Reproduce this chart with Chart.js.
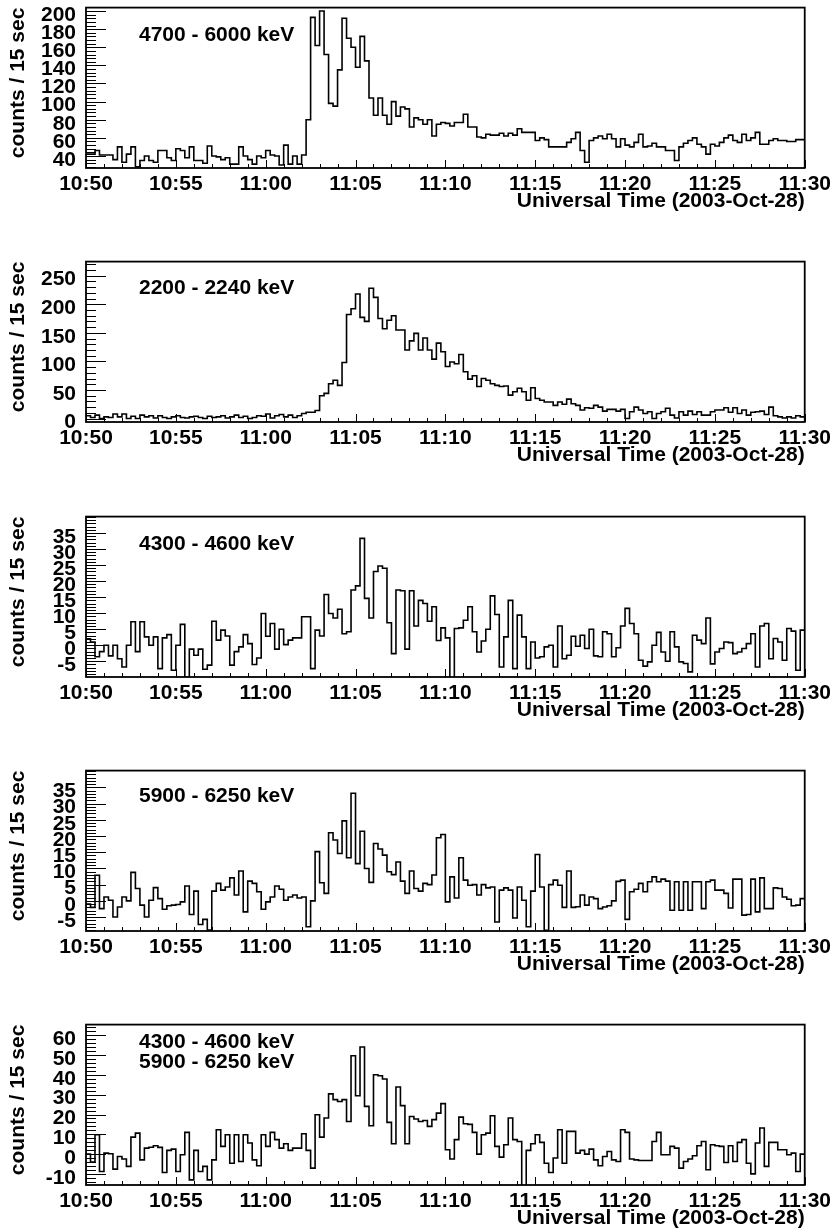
<!DOCTYPE html>
<html><head><meta charset="utf-8">
<script src="https://cdn.jsdelivr.net/npm/chart.js@4.4.1/dist/chart.umd.min.js"></script>
<style>
html,body{margin:0;padding:0;background:#fff;}
#wrap{position:relative;width:835px;height:1230px;overflow:hidden;background:#fff;}
#wrap canvas{position:absolute;left:0;}
</style></head><body><div id="wrap"></div>
<script>
// ---- data ----
const binMinutes = 0.25;           // 15 s bins, minutes after 10:50
const xTickLabels = ['10:50','10:55','11:00','11:05','11:10','11:15','11:20','11:25','11:30'];
const xTitle = 'Universal Time (2003-Oct-28)';
const yTitle = 'counts / 15 sec';

const counts4700to6000 = [
 42,42,46,41,41,41,36,50,33,42, 50,28,35,40,35,33,46,46,38,35,
 48,46,38,50,35,35,32,51,40,39, 36,38,31,31,50,40,36,31,40,38,
 46,41,40,30,52,31,40,31,41,80, 193,162,200,152,98,95,135,192,170,160,
 138,172,145,104,85,104,85,75,100,84, 94,92,72,82,80,75,80,62,75,77,
 76,73,77,77,86,72,72,61,60,64, 63,63,65,62,65,63,70,66,66,66,
 57,60,58,50,50,50,50,55,59,66, 46,33,57,60,62,59,64,59,50,59,
 52,50,55,64,50,51,54,50,50,46, 46,35,50,54,57,60,53,50,42,53,
 51,55,60,63,57,55,64,57,60,66, 53,53,57,59,57,57,56,56,58,58
];
const counts2200to2240 = [
 5,2,6,0,3,2,8,3,8,0, 4,0,6,3,5,1,5,2,0,3,
 5,2,1,3,4,2,0,4,2,3, 5,1,3,6,2,4,0,2,5,4,
 8,1,5,7,3,6,2,5,9,11, 11,14,40,44,61,67,58,98,182,192,
 218,177,170,228,212,175,157,172,180,155, 155,120,136,149,120,141,120,104,132,117,
 91,99,96,112,82,69,75,56,70,67, 61,58,56,57,41,47,53,47,32,54,
 35,32,29,29,23,29,25,34,26,23, 15,19,18,23,20,13,16,16,13,16,
 0,12,20,15,9,12,0,9,12,18, 6,1,12,6,13,7,12,6,6,12,
 15,15,19,11,19,9,15,6,11,12, 13,7,20,5,3,1,3,1,5,3
];
const counts4300to4600 = [
 2,1,-3.6,-2,0,-3.3,0,-4.2,-6.8,0, 7.3,-2,7.3,2.6,0,2.6,-7.3,2.3,3.3,-7.8,
 0,6.5,-10,-1.2,-3.1,-1.2,-7.5,-6.2,7.5,1.6, 4.7,2.9,-6.2,-2,-0.5,3.3,0.5,-6,-4,9.9,
 2.8,6.8,-1.2,5,0.2,1.6,2.3,2.3,8.9,8.9, -7.3,4.7,2.9,15.8,9.9,8.5,11.2,3.6,4.2,17.2,
 18.5,33.3,14.6,8.5,23,24.7,24,7,-2.6,17.2, 17,-1.2,17,6,14,13,7.5,12,1.5,5.4,
 2.3,-11,5.2,5.4,7.8,12,4.2,-2.1,1.3,5, 15.4,9.6,-6.8,2.6,14,-7.3,9.4,2.6,-7.3,1,
 -4,-3.6,-0.5,0,-6.8,6,-4.2,-3.1,2.8,-0.3, 3.1,-1,5,-3.3,-3.6,4.2,3.6,-3.6,-0.8,6,
 11.5,6.8,3.6,-4.7,-6.5,-5.2,0,4,-2.1,-5, 4.2,-0.5,-5.2,-5.7,-8.3,3.1,1.6,0.5,8.5,-5.8,
 -2.1,-1,1,0.8,-2.6,-2.1,-1,0.5,3.6,-6.8, 6,6.8,-4.2,2.1,1,-4.7,5.2,4.4,-7.8,4.7
];
const counts5900to6250 = [
 -1,-2,7.9,-2.4,1.2,0.2,-5,-1.9,1.2,0, 8.8,3.8,-1.3,-5,0.2,4.1,0.7,-2.6,-1.5,-1.3,
 -1.1,-0.3,4.6,-4.2,3,-7.3,-5.7,-9,3,5.4, 3.3,4.3,7.1,1.8,9.2,-3.4,6.1,5.4,2.8,-2.6,
 -0.3,1.2,4.6,3.6,0.2,1.2,1.8,0.9,1.2,-8, 0,15.2,5.6,2.3,21,18.8,14.6,24.7,13.3,33.2,
 11.5,21.5,10,5.7,17.7,16,14.1,9,8.1,12, 6.1,2.3,9.2,3.8,3,5.4,5,8,19.5,20.5,
 -0.3,7.4,0.9,13.3,6.4,4.8,5,1.8,5,4, 4.3,-6.5,3.3,4,3.3,-5.3,4.3,0.2,-8,3,
 14.3,4.3,-9.1,5,6.4,4.8,-2,9.2,-2,-1.8, 1.8,-1.3,1.2,0.7,-2.4,-1.9,-1.5,0,6,6.4,
 -5.7,2.8,3.6,5.4,2.8,5.9,7.4,5.9,6.7,6.1, -2.9,5.9,-2.9,5.9,-2.9,5.9,5.9,-2.4,5.9,6.4,
 3.3,3.3,2.3,-2.2,6.7,6.7,-4.4,-4.2,6.7,-3.4, 7.1,-2.4,-2.4,4,3.8,1.2,0.5,-1.5,-1.3,0.7
];
const countsCombined = [
 0,-4,9.8,-8.8,0.5,0.2,-7.6,-1.2,-2.5,-6.2, 8.6,10.6,-2.9,3,3.5,4.2,3.4,-9.3,1.9,2.5,
 -8.8,-0.3,11,-13,1.9,-8.8,-6.2,-13,-2.9,12.3, 3.9,9.8,-4.6,9.8,-3.7,9.8,5.6,-2.9,-5.9,9.8,
 3.9,11,7.3,3,5.2,1.9,3,3,10.3,1.9, -7.1,19.9,8.6,18.2,30.4,27.5,26.6,27.5,16.5,49.7,
 29.5,54.1,24.1,14.3,40.1,39.6,37.9,16,5.2,33.9, 24.5,5.2,19,17.7,16.5,17,14,17.4,20.7,25.5,
 2.2,-2.5,7.3,18.7,15.3,15,11,0,9.8,10.6, 19.4,3.9,-1.5,4.7,18.2,7.3,6.4,-17,1.9,5.2,
 9.8,5.9,-4.6,-9.3,-2,12.3,-4.6,11.5,11.5,0.5, 1.9,0,2.5,-2.9,-5.9,-1.2,1.3,-2.9,-3.7,12.3,
 11,-2.5,-2.9,-3.2,-3.2,-3.2,6.4,11,-0.3,-0.3, 3.9,3,-7.1,-3.7,-2.5,-0.8,4.2,6.4,-7.9,4.7,
 4.2,3.9,-4.2,4.2,-3.7,5.9,7.3,-4.6,-10,5.6, 13.2,-6.2,5.9,5.9,2.2,2.2,-0.3,0.5,-8.8,0
];

const yTicks1 = [40,60,80,100,120,140,160,180,200];
const yTicks2 = [0,50,100,150,200,250];
const yTicks3 = [-5,0,5,10,15,20,25,30,35];
const yTicks4 = [-5,0,5,10,15,20,25,30,35];
const yTicks5 = [-10,0,10,20,30,40,50,60];

const labels1 = ['4700 - 6000 keV'];
const labels2 = ['2200 - 2240 keV'];
const labels3 = ['4300 - 4600 keV'];
const labels4 = ['5900 - 6250 keV'];
const labels5 = ['4300 - 4600 keV', '5900 - 6250 keV'];

// ---- layout / style ----
const panels = [
  {data:counts4700to6000, ticks:yTicks1, minor:4,  min:26.7,  max:203.8, top:7.3,   text:labels1, textY:[28]},
  {data:counts2200to2240, ticks:yTicks2, minor:10, min:-6,    max:274.6, top:261.7, text:labels2, textY:[27]},
  {data:counts4300to4600, ticks:yTicks3, minor:1,  min:-9.9,  max:40.1,  top:516.7, text:labels3, textY:[28]},
  {data:counts5900to6250, ticks:yTicks4, minor:1,  min:-9.3,  max:40.2,  top:770.7, text:labels4, textY:[26]},
  {data:countsCombined,   ticks:yTicks5, minor:2,  min:-15.6, max:65.4,  top:1025,  text:labels5, textY:[18,38]}
];
const FAM = '"Liberation Sans", Arial, Helvetica, sans-serif';
const tickFont = {family:FAM, size:21, weight:'bold'};
const titleFont = {family:FAM, size:21, weight:'bold'};
const PLOT_H = 160, PAD_TOP = 16, XAX_H = 46;

const rootFrame = {
  id:'rootFrame',
  afterDraw(chart, args, opts){
    const {ctx, chartArea:a} = chart;
    const x = chart.scales.x, y = chart.scales.y;
    ctx.save();
    ctx.strokeStyle = '#000';
    ctx.lineWidth = 1;
    ctx.beginPath();
    for (let m = 0; m <= 40; m++) {
      const px = Math.round(x.getPixelForValue(m)) + 0.5;
      const len = (m % 5 === 0) ? 8 : 4;
      ctx.moveTo(px, a.bottom); ctx.lineTo(px, a.bottom - len);
    }
    const k0 = Math.ceil(y.min / opts.minor), k1 = Math.floor(y.max / opts.minor);
    for (let k = k0; k <= k1; k++) {
      const v = k * opts.minor;
      const py = Math.round(y.getPixelForValue(v)) + 0.5;
      const major = opts.ticks.includes(v);
      ctx.moveTo(a.left, py); ctx.lineTo(a.left + (major ? 20 : 10), py);
    }
    ctx.stroke();
    ctx.lineWidth = 1.8;
    ctx.strokeRect(a.left, a.top, a.right - a.left, a.bottom - a.top);
    ctx.fillStyle = '#000';
    ctx.font = 'bold 21px ' + FAM;
    ctx.textBaseline = 'middle';
    ctx.textAlign = 'left';
    opts.text.forEach((t, i) => ctx.fillText(t, 139, a.top + opts.textY[i]));
    ctx.restore();
  }
};

function makeChart(c, p) {
  const pts = p.data.map((v, i) => ({x: i * binMinutes, y: v}));
  pts.push({x: p.data.length * binMinutes, y: p.data[p.data.length - 1]});
  return new Chart(c, {
    type: 'line',
    data: {datasets: [{data: pts, stepped: true, borderColor: '#000', borderWidth: 1.6,
      pointRadius: 0, fill: false, tension: 0}]},
    options: {
      animation: false, responsive: false, maintainAspectRatio: false,
      devicePixelRatio: 1, events: [],
      layout: {padding: {left: 0, right: 27, top: PAD_TOP, bottom: 0}},
      plugins: {legend: {display: false}, tooltip: {enabled: false},
        rootFrame: {minor: p.minor, ticks: p.ticks, text: p.text, textY: p.textY}},
      scales: {
        x: {type: 'linear', min: 0, max: 40,
          afterBuildTicks: s => { s.ticks = xTickLabels.map((l, i) => ({value: i * 5})); },
          ticks: {callback: (v, i) => xTickLabels[i], font: tickFont, color: '#000',
            padding: 4, maxRotation: 0, autoSkip: false},
          grid: {display: false, drawTicks: false}, border: {display: false},
          title: {display: true, text: xTitle, align: 'end', font: titleFont, color: '#000',
            padding: {top: 0, bottom: 0}},
          afterFit: s => { s.height = XAX_H; }
        },
        y: {type: 'linear', min: p.min, max: p.max,
          afterBuildTicks: s => { s.ticks = p.ticks.map(v => ({value: v})); },
          ticks: {font: tickFont, color: '#000', padding: 10, labelOffset: 4, autoSkip: false},
          grid: {display: false, drawTicks: false}, border: {display: false},
          title: {display: true, text: yTitle, align: 'end', font: titleFont, color: '#000',
            padding: {top: 6, bottom: 0}},
          afterFit: s => { s.width = 86; }
        }
      }
    },
    plugins: [rootFrame]
  });
}

const wrap = document.getElementById('wrap');
panels.forEach(p => {
  const c = document.createElement('canvas');
  let H = PAD_TOP + PLOT_H + XAX_H + 20;
  c.width = 835; c.height = H;
  c.style.width = '835px'; c.style.height = H + 'px';
  wrap.appendChild(c);
  let chart = makeChart(c, p);
  const h = chart.chartArea.bottom - chart.chartArea.top;
  if (Math.abs(h - PLOT_H) > 0.25) {
    chart.destroy();
    H = Math.round(H + (PLOT_H - h));
    c.width = 835; c.height = H;
    c.style.width = '835px'; c.style.height = H + 'px';
    chart = makeChart(c, p);
  }
  c.style.top = (p.top - chart.chartArea.top) + 'px';
});
</script></body></html>
